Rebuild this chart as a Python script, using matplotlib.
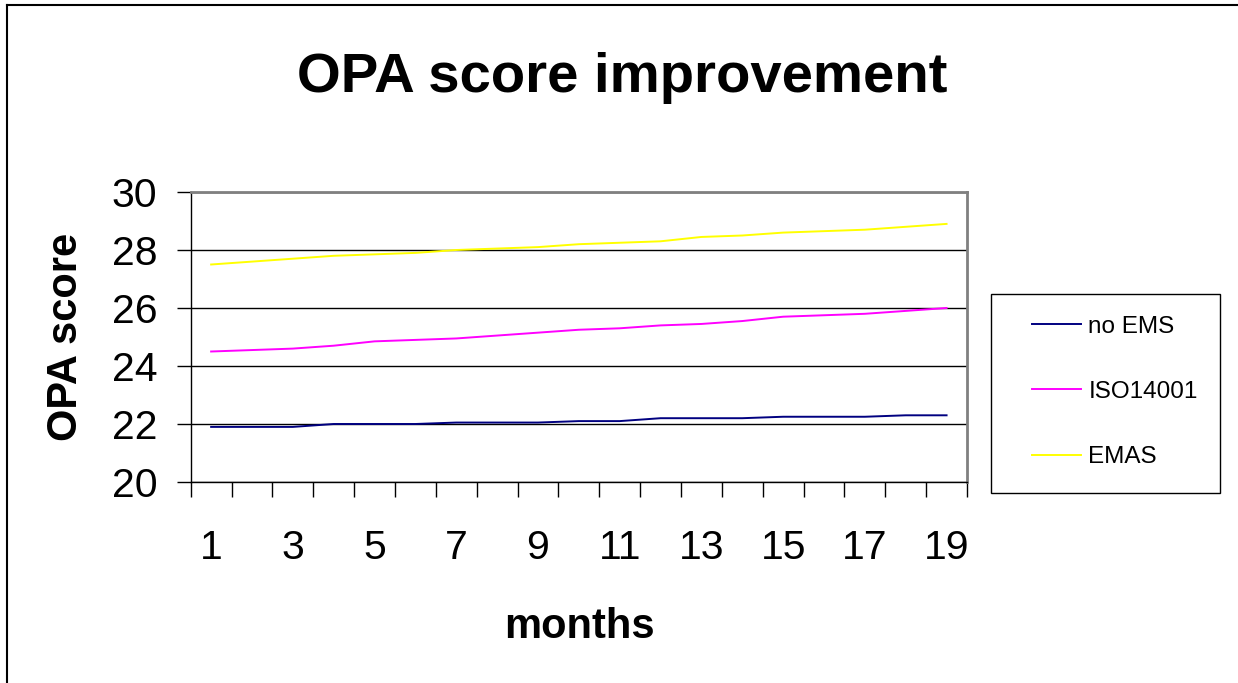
import matplotlib
matplotlib.use("Agg")

import numpy as np
import matplotlib.pyplot as plt
from matplotlib.lines import Line2D
from matplotlib.patches import Rectangle

# -----------------------------
# DANE
# -----------------------------

months = list(range(1, 20))

no_ems = [21.9, 21.9, 21.9, 22.0, 22.0, 22.0, 22.05, 22.05, 22.05, 22.1,
          22.1, 22.2, 22.2, 22.2, 22.25, 22.25, 22.25, 22.3, 22.3]

iso14001 = [24.5, 24.55, 24.6, 24.7, 24.85, 24.9, 24.95, 25.05, 25.15, 25.25,
            25.3, 25.4, 25.45, 25.55, 25.7, 25.75, 25.8, 25.9, 26.0]

emas = [27.5, 27.6, 27.7, 27.8, 27.85, 27.9, 28.0, 28.05, 28.1, 28.2,
        28.25, 28.3, 28.45, 28.5, 28.6, 28.65, 28.7, 28.8, 28.9]

series_names = ["no EMS", "ISO14001", "EMAS"]
series_colors = ["#000080", "#FF00FF", "#FFFF00"]

y_ticks = [20, 22, 24, 26, 28, 30]
x_labels = [str(m) for m in months[::2]]

TITLE = "OPA score improvement"
X_LABEL = "months"
Y_LABEL = "OPA score"

W, H = 1238, 683

plt.rcParams["font.family"] = ["Liberation Sans", "DejaVu Sans"]


def main():

    fig = plt.figure(
        figsize=(W / 100, H / 100),
        dpi=100,
        facecolor="white"
    )

    # ramka wykresu (lewa i górna krawędź)
    fig.add_artist(Line2D([7 / W, 7 / W], [0, 1 - 5 / H],
                          color="black", lw=1.5, transform=fig.transFigure))
    fig.add_artist(Line2D([7 / W, 1], [1 - 5 / H, 1 - 5 / H],
                          color="black", lw=1.5, transform=fig.transFigure))

    ax = fig.add_axes([
        190.7 / W,
        1 - 482 / H,
        (967 - 190.7) / W,
        (482 - 192) / H
    ])

    handles = []
    for vals, name, col in zip([no_ems, iso14001, emas], series_names, series_colors):
        h, = ax.plot(months, vals, color=col, lw=1.4, label=name, zorder=3)
        handles.append(h)

    ax.set_xlim(0.5, len(months) + 0.5)
    ax.set_ylim(y_ticks[0], y_ticks[-1])

    ax.set_yticks(y_ticks)
    ax.set_yticklabels([str(v) for v in y_ticks], fontsize=29.5)
    ax.tick_params(axis="y", direction="out", length=10, width=1, pad=14)

    # kategorie: kreski na granicach, etykiety co druga kategoria
    ax.set_xticks(np.arange(0.5, len(months) + 1, 1.0))
    ax.set_xticklabels([])
    ax.tick_params(axis="x", which="major", direction="out", length=11, width=1)
    ax.set_xticks(months[::2], minor=True)
    ax.set_xticklabels(x_labels, minor=True, fontsize=29.5)
    ax.tick_params(axis="x", which="minor", length=0, pad=34)

    ax.grid(axis="y", color="black", lw=1)
    ax.set_axisbelow(True)

    for side in ["top", "right"]:
        ax.spines[side].set_color("#808080")
        ax.spines[side].set_linewidth(2)
    for side in ["left", "bottom"]:
        ax.spines[side].set_color("black")
        ax.spines[side].set_linewidth(1)

    ax.set_xlabel(X_LABEL, fontsize=30, fontweight="bold")
    ax.xaxis.set_label_coords(0.501, -0.432)
    ax.set_ylabel(Y_LABEL, fontsize=30, fontweight="bold")
    ax.yaxis.set_label_coords(-0.135, 0.5)

    fig.text(622 / W, 1 - 92 / H, TITLE, fontsize=40.5, fontweight="bold",
             ha="center", va="baseline")

    # legenda
    fig.add_artist(Rectangle((991 / W, 1 - 493 / H), (1220 - 991) / W, (493 - 294) / H,
                             transform=fig.transFigure, fill=False,
                             edgecolor="black", lw=1))
    fig.legend(
        handles=handles,
        labels=series_names,
        loc="center left",
        bbox_to_anchor=(1013 / W, 1 - 392 / H),
        frameon=False,
        fontsize=17.5,
        handlelength=2.0,
        handletextpad=0.3,
        labelspacing=1.78,
        borderpad=0.3
    )

    fig.savefig("out.png", dpi=100, facecolor="white")
    plt.close(fig)


if __name__ == "__main__":
    main()
